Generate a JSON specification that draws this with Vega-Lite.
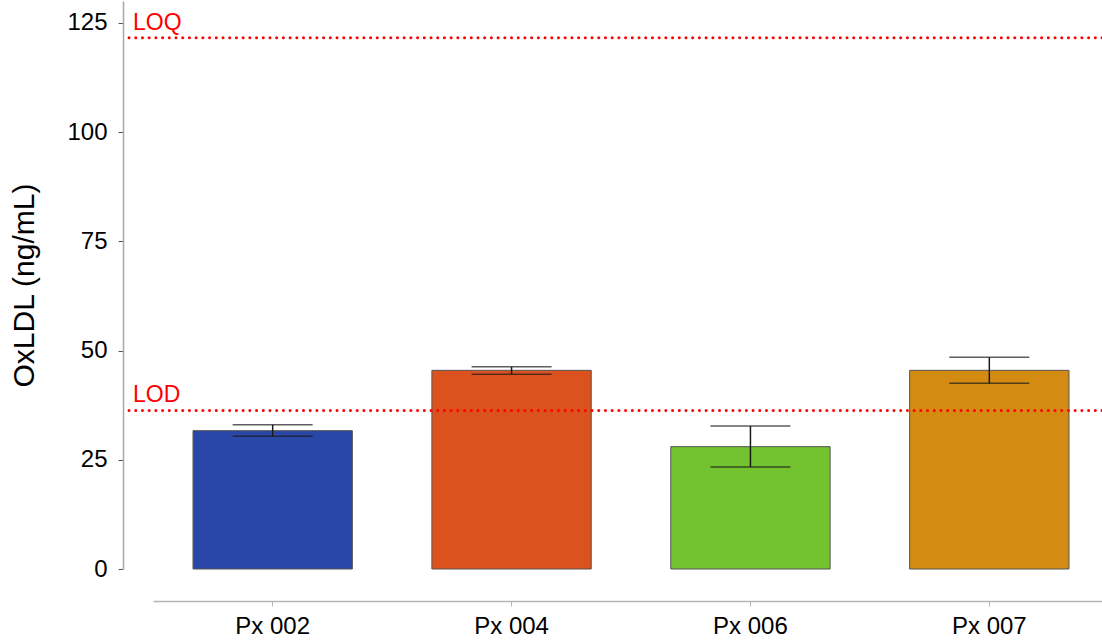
{
  "$schema": "https://vega.github.io/schema/vega-lite/v6.json",
  "width": 979,
  "height": 568,
  "autosize": {"type": "none"},
  "padding": {"left": 123, "top": 1, "right": 0, "bottom": 73},
  "background": "white",
  "config": {
    "view": {"stroke": null},
    "font": "Liberation Sans",
    "axis": {"grid": false, "labelFont": "Liberation Sans", "titleFont": "Liberation Sans"}
  },
  "datasets": {
    "subjects": [
      {"subject": "Px 002", "mean": 31.66, "lower": 30.36, "upper": 33.04},
      {"subject": "Px 004", "mean": 45.47, "lower": 44.55, "upper": 46.31},
      {"subject": "Px 006", "mean": 28.0, "lower": 23.35, "upper": 32.74},
      {"subject": "Px 007", "mean": 45.47, "lower": 42.49, "upper": 48.44}
    ],
    "limits": [
      {"limit": "LOQ", "value": 121.6},
      {"limit": "LOD", "value": 36.3}
    ]
  },
  "layer": [
    {
      "data": {"name": "subjects"},
      "layer": [
        {
          "mark": {"type": "bar", "stroke": "#555555", "strokeWidth": 1},
          "encoding": {
            "x": {
              "field": "subject",
              "type": "nominal",
              "sort": null,
              "scale": {"range": [30, 986], "paddingInner": 0.333, "paddingOuter": 0.1675},
              "axis": {
                "title": null,
                "labelAngle": 0,
                "labelFontSize": 24,
                "labelColor": "#000000",
                "labelPadding": 8,
                "domainColor": "#b5b5b5",
                "domainWidth": 1.5,
                "tickColor": "#b5b5b5",
                "tickSize": 5,
                "offset": 32
              }
            },
            "y": {
              "field": "mean",
              "type": "quantitative",
              "scale": {"domain": [0, 130], "nice": false, "zero": true},
              "axis": {
                "title": "OxLDL (ng/mL)",
                "titleFontSize": 30,
                "titleFontWeight": "normal",
                "titleColor": "#000000",
                "titlePadding": 27,
                "values": [0, 25, 50, 75, 100, 125],
                "labelFontSize": 24,
                "labelColor": "#000000",
                "labelPadding": 11,
                "domainColor": "#a8a8a8",
                "domainWidth": 1.5,
                "tickColor": "#555555",
                "tickSize": 5
              }
            },
            "color": {
              "field": "subject",
              "type": "nominal",
              "scale": {
                "domain": ["Px 002", "Px 004", "Px 006", "Px 007"],
                "range": ["#2a46a6", "#dc521e", "#73c22f", "#d38c11"]
              },
              "legend": null
            }
          }
        },
        {
          "mark": {"type": "rule", "color": "#1a1a1a", "strokeWidth": 1.5},
          "encoding": {
            "x": {"field": "subject", "type": "nominal", "sort": null},
            "y": {"field": "lower", "type": "quantitative"},
            "y2": {"field": "upper"}
          }
        },
        {
          "mark": {"type": "tick", "color": "#1a1a1a", "size": 80, "thickness": 1.5},
          "encoding": {
            "x": {"field": "subject", "type": "nominal", "sort": null},
            "y": {"field": "upper", "type": "quantitative"}
          }
        },
        {
          "mark": {"type": "tick", "color": "#1a1a1a", "size": 80, "thickness": 1.5},
          "encoding": {
            "x": {"field": "subject", "type": "nominal", "sort": null},
            "y": {"field": "lower", "type": "quantitative"}
          }
        }
      ]
    },
    {
      "data": {"name": "limits"},
      "layer": [
        {
          "mark": {"type": "rule", "color": "#ff0000", "strokeWidth": 3, "strokeCap": "round", "strokeDash": [0.01, 6.7], "clip": false},
          "encoding": {
            "y": {"field": "value", "type": "quantitative"}
          }
        },
        {
          "mark": {"type": "text", "color": "#ff0000", "fontSize": 23, "align": "left", "baseline": "alphabetic", "dx": 10, "dy": -8},
          "encoding": {
            "x": {"value": 0},
            "y": {"field": "value", "type": "quantitative"},
            "text": {"field": "limit"}
          }
        }
      ]
    }
  ]
}
